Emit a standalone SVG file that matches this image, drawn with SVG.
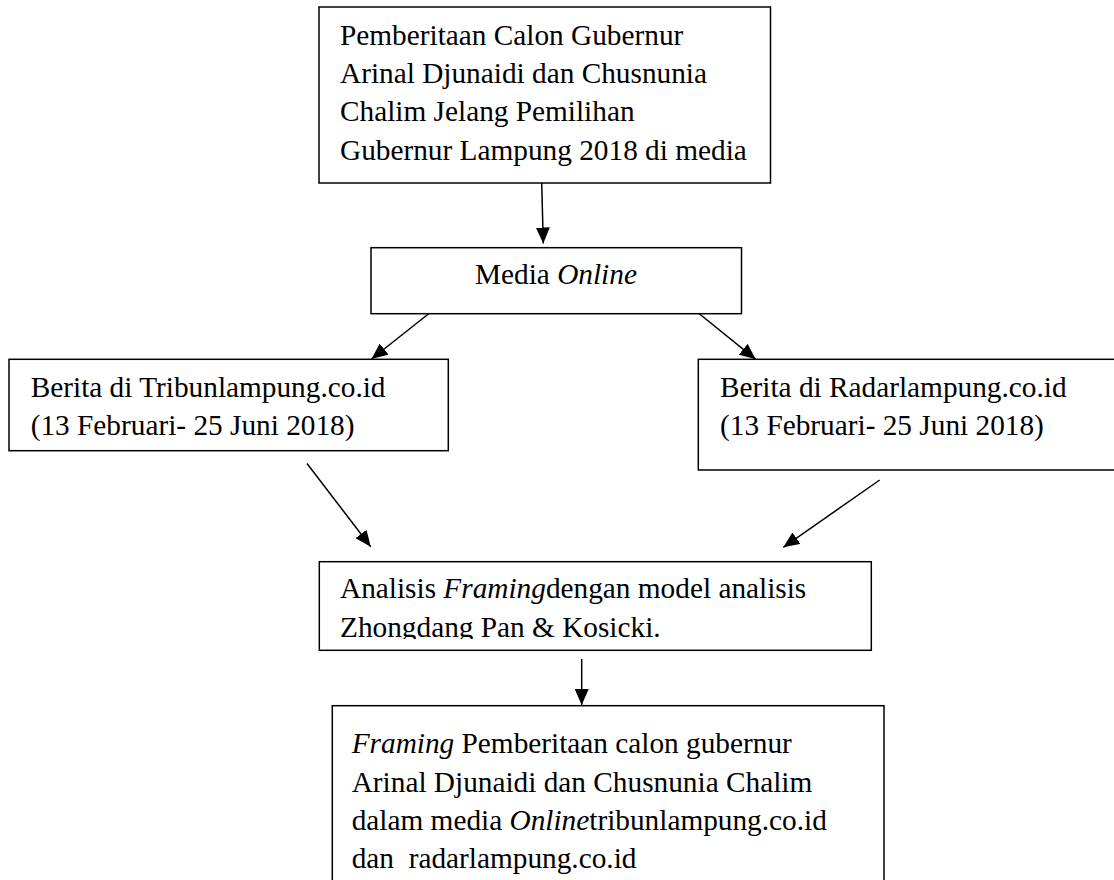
<svg xmlns="http://www.w3.org/2000/svg" width="1114" height="880" viewBox="0 0 1114 880">
  <style>
    .box { fill: #ffffff; stroke: #000000; stroke-width: 1.5; }
    .t { font-family: "Liberation Serif", "Times New Roman", serif; font-size: 29.3px; fill: #000000; }
    .i { font-style: italic; }
    .conn line { stroke: #000000; stroke-width: 1.5; fill: none; }
  </style>
  <defs>
    <marker id="arrow" viewBox="0 0 16 14" refX="16" refY="7" markerWidth="16" markerHeight="14" markerUnits="userSpaceOnUse" orient="auto">
      <path d="M0,0 L16,7 L0,14 Z" fill="#000000"/>
    </marker>
    <clipPath id="clipAnalisis">
      <rect x="319" y="561" width="553" height="78"/>
    </clipPath>
  </defs>
  <rect width="1114" height="880" fill="#ffffff"/>

  <g id="node-pemberitaan">
    <rect class="box" x="319" y="7" width="451.5" height="176"/>
    <text class="t" x="340" y="45">Pemberitaan Calon Gubernur</text>
    <text class="t" x="340" y="83">Arinal Djunaidi dan Chusnunia</text>
    <text class="t" x="340" y="121.3">Chalim Jelang Pemilihan</text>
    <text class="t" x="340" y="159.5">Gubernur Lampung 2018 di media</text>
  </g>

  <g id="node-media-online">
    <rect class="box" x="371" y="247.7" width="370.5" height="66"/>
    <text class="t" x="475" y="284">Media <tspan class="i">Online</tspan></text>
  </g>

  <g id="node-tribun">
    <rect class="box" x="9" y="359.3" width="439.3" height="91.4"/>
    <text class="t" x="30.7" y="396.7">Berita di Tribunlampung.co.id</text>
    <text class="t" x="30.7" y="435">(13 Februari- 25 Juni 2018)</text>
  </g>

  <g id="node-radar">
    <rect class="box" x="698.3" y="359.3" width="420" height="110.7"/>
    <text class="t" x="720" y="396.7">Berita di Radarlampung.co.id</text>
    <text class="t" x="720" y="435">(13 Februari- 25 Juni 2018)</text>
  </g>

  <g id="node-analisis">
    <rect class="box" x="319.3" y="561.7" width="552" height="88.6"/>
    <g clip-path="url(#clipAnalisis)">
      <text class="t" x="340" y="598.3">Analisis <tspan class="i">Framing</tspan>dengan model analisis</text>
      <text class="t" x="340" y="636.7">Zhongdang Pan &amp; Kosicki.</text>
    </g>
  </g>

  <g id="node-framing">
    <rect class="box" x="332.3" y="705.7" width="551.7" height="190"/>
    <text class="t" x="351.7" y="753.3"><tspan class="i">Framing</tspan> Pemberitaan calon gubernur</text>
    <text class="t" x="351.7" y="791.7">Arinal Djunaidi dan Chusnunia Chalim</text>
    <text class="t" x="351.7" y="830">dalam media <tspan class="i">Online</tspan>tribunlampung.co.id</text>
    <text class="t" x="351.7" y="868.3" xml:space="preserve">dan  radarlampung.co.id</text>
  </g>

  <g id="connectors" class="conn">
    <line x1="541.7" y1="183" x2="543.3" y2="243.5" marker-end="url(#arrow)"/>
    <line x1="429" y1="313.5" x2="371.5" y2="359" marker-end="url(#arrow)"/>
    <line x1="699" y1="313.5" x2="755.7" y2="359.3" marker-end="url(#arrow)"/>
    <line x1="307" y1="463.5" x2="370.7" y2="546.7" marker-end="url(#arrow)"/>
    <line x1="879.7" y1="480" x2="783.3" y2="547.3" marker-end="url(#arrow)"/>
    <line x1="581.7" y1="659" x2="581.7" y2="705" marker-end="url(#arrow)"/>
  </g>
</svg>
